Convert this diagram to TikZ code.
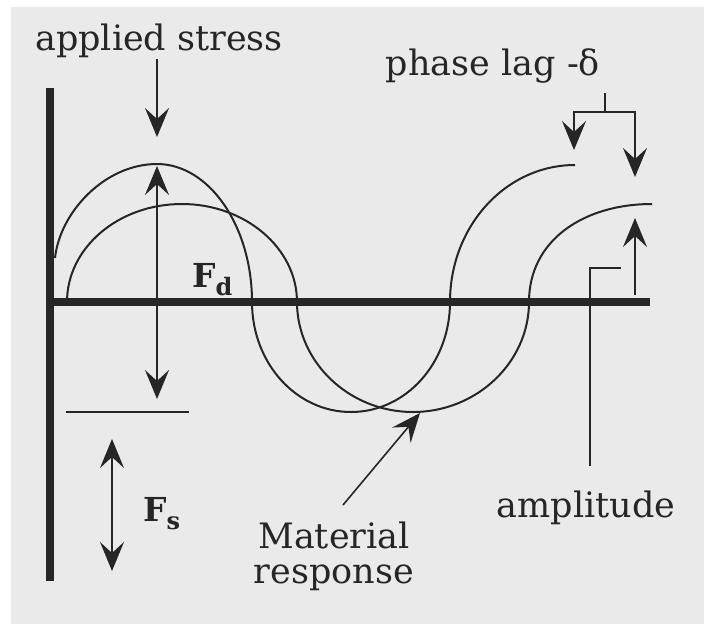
\documentclass[tikz,border=0pt]{standalone}
\usepackage{fontspec}
\setmainfont{DejaVu Serif}
\usetikzlibrary{arrows.meta,positioning}
\definecolor{ink}{HTML}{262626}
\definecolor{paper}{HTML}{EAEAEA}
\newcommand{\subtxt}[1]{\raisebox{-8pt}{\fontsize{24}{24}\selectfont\bfseries #1}}

\begin{document}
\begin{tikzpicture}[x=1pt, y=-1pt,
  axis/.style={line width=7.5pt, ink},
  wave/.style={line width=2pt, ink},
  lead/.style={line width=1.6pt, ink},
  arr/.style={lead, -{Stealth[length=29pt,width=24pt,inset=11pt]}},
  dbl/.style={lead, {Stealth[length=29pt,width=24pt,inset=11pt]}-{Stealth[length=29pt,width=24pt,inset=11pt]}},
  lbl/.style={font=\fontsize{35}{35}\selectfont, text=ink, inner sep=0pt}
]
  \useasboundingbox (0,0) rectangle (704,627);
  \fill[paper] (11,7) rectangle (704,624);

  \draw[axis] (50,88) -- (50,581);
  \draw[axis] (46,302) -- (650,302);

  % applied stress
  \draw[wave] (55,258) .. controls (60,212) and (105,164) .. (157,164)
    .. controls (209,164) and (252,226) .. (252,302)
    .. controls (252,363) and (296,412) .. (351,412)
    .. controls (406,412) and (450,363) .. (450,302)
    .. controls (450,226) and (506,165) .. (575,165);
  % material response
  \draw[wave] (67,302) .. controls (67,248) and (118,204) .. (182,204)
    .. controls (245,204) and (297,248) .. (297,302)
    .. controls (297,362) and (349,412) .. (413,412)
    .. controls (477,412) and (529,362) .. (529,302)
    .. controls (529,240) and (584,204) .. (652,204);

  \node[lbl, anchor=base] (stresslbl) at (159,50) {applied stress};
  \node[lbl, anchor=base] (laglbl) at (493,75) {phase lag -δ};
  \node[lbl, anchor=base west, font=\fontsize{33}{33}\selectfont\bfseries] (fdlbl) at (192,287) {F\subtxt{d}};
  \node[lbl, anchor=base west, font=\fontsize{33}{33}\selectfont\bfseries] (fslbl) at (143,521) {F\subtxt{s}};
  \node[lbl, align=center] (resplbl) at (334,556) {Material\\response};
  \node[lbl, anchor=base] (amplbl) at (586,517) {amplitude};

  \coordinate (stresstip) at (157,137);
  \coordinate (fdtop) at (157,166);
  \coordinate (fdbot) at (157,399);
  \coordinate (fstop) at (112,439);
  \coordinate (fsbot) at (112,571);
  \coordinate (respfoot) at (343,505);
  \coordinate (resptip) at (420,413);
  \coordinate (lagstem) at (605,112);
  \coordinate (lagA) at (574,150);
  \coordinate (lagB) at (635,177);
  \coordinate (ampfoot) at (590,466);
  \coordinate (ampknee) at (590,268);
  \coordinate (ampend) at (621,268);
  \coordinate (ampbase) at (635,295);
  \coordinate (amptip) at (635,218);

  \draw[arr] (stresslbl.south -| stresstip) ++(0,2) -- (stresstip);
  \draw[dbl] (fdtop) -- (fdbot);
  \draw[lead] (66,412) -- (189,412);
  \draw[dbl] (fstop) -- (fsbot);
  \draw[arr] (respfoot) -- (resptip);
  \draw[lead] (laglbl.south -| lagstem) ++(0,10) -- (lagstem);
  \draw[arr] (lagstem) -| (lagA);
  \draw[arr] (lagstem) -| (lagB);
  \draw[lead] (ampfoot) -- (ampknee) -- (ampend);
  \draw[arr] (ampbase) -- (amptip);
\end{tikzpicture}
\end{document}
